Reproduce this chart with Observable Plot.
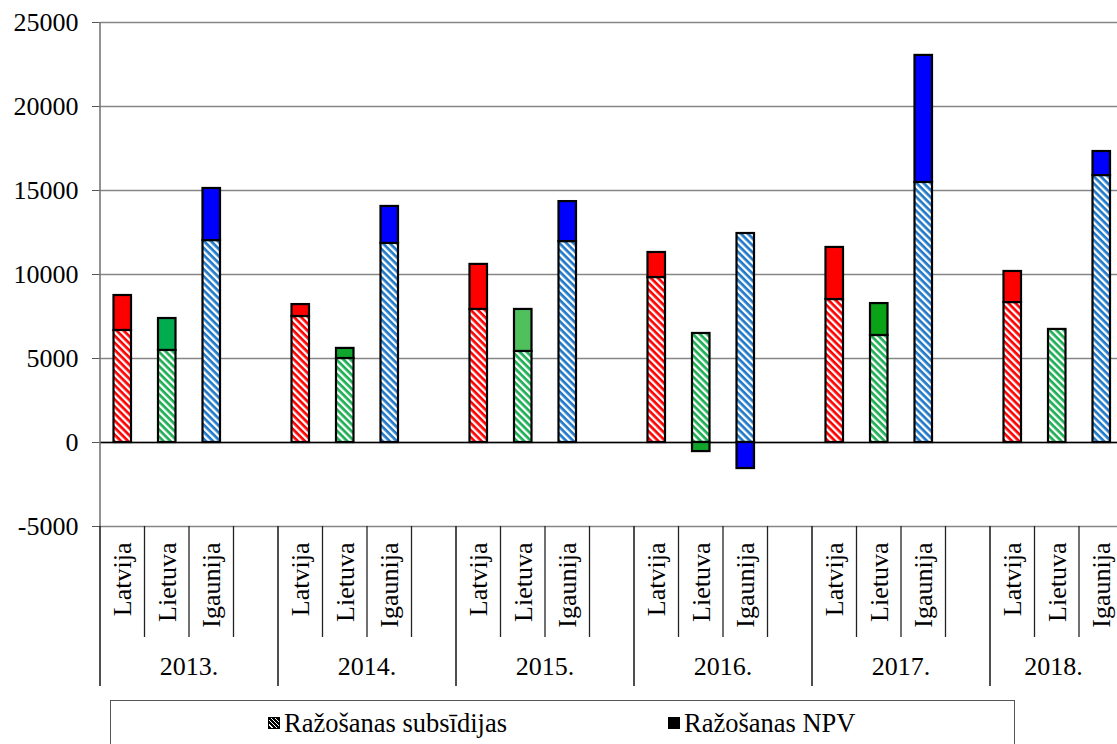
<!DOCTYPE html>
<html>
<head>
<meta charset="utf-8">
<script src="https://cdn.jsdelivr.net/npm/d3@7"></script>
<script src="https://cdn.jsdelivr.net/npm/@observablehq/plot@0.6"></script>
<style>
html, body { margin: 0; padding: 0; background: #fff; overflow: hidden; }
#wrap { width: 1117px; height: 744px; overflow: hidden; position: relative; font-family: "Liberation Serif", "Times New Roman", serif; }
#chart { width: 1117px; height: 700px; overflow: hidden; }
#chart svg text { font-family: "Liberation Serif", "Times New Roman", serif; }
#legend { position: absolute; left: 110px; top: 700px; width: 905px; height: 70px; border: 1.5px solid #555; box-sizing: border-box; background: #fff; }
.item { position: absolute; top: 7px; font-size: 26.5px; line-height: 30px; display: flex; align-items: center; color: #000; white-space: nowrap; font-family: "Liberation Serif", "Times New Roman", serif; }
.sw { width: 10px; height: 10px; border: 1.5px solid #000; margin-right: 4px; }
</style>
</head>
<body>
<div id="wrap">
<svg width="0" height="0" style="position:absolute">
  <defs>
    <pattern id="hatch-Latvija" patternUnits="userSpaceOnUse" width="5" height="5" patternTransform="rotate(45)">
      <rect width="5" height="5" fill="#ffffff"/><rect width="5" height="2.7" fill="#ff0000"/>
    </pattern>
    <pattern id="hatch-Lietuva" patternUnits="userSpaceOnUse" width="5" height="5" patternTransform="rotate(45)">
      <rect width="5" height="5" fill="#ffffff"/><rect width="5" height="2.7" fill="#1cae52"/>
    </pattern>
    <pattern id="hatch-Igaunija" patternUnits="userSpaceOnUse" width="5" height="5" patternTransform="rotate(45)">
      <rect width="5" height="5" fill="#ffffff"/><rect width="5" height="2.7" fill="#1f78c8"/>
    </pattern>
  </defs>
</svg>
<div id="chart"></div>
<div id="legend">
  <div class="item" style="left:157px"><div class="sw" style="background:#333; background-image: repeating-linear-gradient(45deg, #000 0 2px, #fff 2px 3px);"></div><span id="leg1"></span></div>
  <div class="item" style="left:557px"><div class="sw" style="background:#000"></div><span id="leg2"></span></div>
</div>
</div>
<script>
// ---- data ----
const years = ["2013.", "2014.", "2015.", "2016.", "2017.", "2018."];
const countries = ["Latvija", "Lietuva", "Igaunija"];
const seriesNames = ["Ražošanas subsīdijas", "Ražošanas NPV"];

const subsLatvija  = [6670, 7500, 7920, 9820, 8510, 8330];
const subsLietuva  = [5480, 5000, 5420, 6490, 6370, 6730];
const subsIgaunija = [12020, 11850, 11960, 12440, 15480, 15890];

const npvLatvija  = [2080, 710, 2680, 1490, 3100, 1850];
const npvLietuva  = [1900, 600, 2500, -540, 1900, 0];
const npvIgaunija = [3100, 2200, 2380, -1550, 7560, 1430];

const yTicks = [-5000, 0, 5000, 10000, 15000, 20000, 25000];

// ---- styles ----
const npvColorLatvija = ["#ff0000", "#ff0000", "#ff0000", "#ff0000", "#ff0000", "#ff0000"];
const npvColorLietuva = ["#00ac4e", "#10a52c", "#50c05c", "#12a52c", "#0aa318", "#0aa318"];
const npvColorIgaunija = ["#0000ff", "#0000ff", "#0000ff", "#0000ff", "#0000ff", "#0000ff"];
const FONT = "'Liberation Serif', 'Times New Roman', serif";

document.getElementById("leg1").textContent = seriesNames[0];
document.getElementById("leg2").textContent = seriesNames[1];

// ---- tables ----
const subs = {Latvija: subsLatvija, Lietuva: subsLietuva, Igaunija: subsIgaunija};
const npv = {Latvija: npvLatvija, Lietuva: npvLietuva, Igaunija: npvIgaunija};
const npvCol = {Latvija: npvColorLatvija, Lietuva: npvColorLietuva, Igaunija: npvColorIgaunija};

const slots = [];
years.forEach(yr => {
  countries.forEach(c => slots.push({key: yr + "|" + c, year: yr, country: c}));
  slots.push({key: yr + "|", year: yr, country: ""});
});
const slotKeys = slots.map(s => s.key);

const rows = [];
years.forEach((yr, i) => {
  countries.forEach(c => {
    rows.push({slot: yr + "|" + c, value: subs[c][i], fill: "url(#hatch-" + c + ")"});
    if (npv[c][i] !== 0) rows.push({slot: yr + "|" + c, value: npv[c][i], fill: npvCol[c][i]});
  });
});

function categoryAxis(index, scales, values, dimensions) {
  const x = scales.x, y = scales.y;
  const bw = x.bandwidth();
  const yb = y(-5000), yt = y(25000);
  const g = d3.create("svg:g");
  g.append("line").attr("x1", x(slotKeys[0])).attr("x2", x(slotKeys[0]))
    .attr("y1", yt).attr("y2", yb).attr("stroke", "#777").attr("stroke-width", 1.6);
  slots.forEach((s, i) => {
    const xs = x(s.key);
    const first = i % 4 === 0;
    g.append("line").attr("x1", xs).attr("x2", xs)
      .attr("y1", yb).attr("y2", yb + (first ? 160 : 111))
      .attr("stroke", "#222").attr("stroke-width", first ? 1.6 : 1.3);
  });
  years.forEach(yr => {
    const x0 = x(yr + "|Latvija");
    const x1 = Math.min(x(yr + "|") + bw, dimensions.width);
    g.append("text").attr("x", (x0 + x1) / 2).attr("y", yb + 149)
      .attr("text-anchor", "middle").attr("font-family", FONT).attr("font-size", 26)
      .attr("fill", "#000").text(yr);
  });
  return g.node();
}

const chart = Plot.plot({
  width: 1117,
  height: 700,
  marginLeft: 100,
  marginRight: 0,
  marginTop: 22,
  marginBottom: 174,
  style: {fontFamily: FONT, fontSize: "26px", color: "#000", background: "#fff", overflow: "hidden"},
  x: {type: "band", domain: slotKeys, range: [100, 1168], padding: 0, round: false, axis: null},
  y: {domain: [-5000, 25000], axis: null},
  color: {type: "identity"},
  marks: [
    Plot.gridY(yTicks, {stroke: "#868686", strokeOpacity: 1, strokeWidth: 1.5}),
    Plot.ruleY([0], {stroke: "#000", strokeWidth: 1.5}),
    Plot.axisY(yTicks, {tickFormat: d => String(d), tickSize: 8, tickPadding: 14, fontSize: 26, fontFamily: FONT, label: null, stroke: "#555"}),
    Plot.barY(rows, Plot.stackY({x: "slot", y: "value", fill: "fill", order: null, insetLeft: 13.5, insetRight: 13.5, stroke: "#000", strokeWidth: 2.2})),
    Plot.text(slots.filter(s => s.country), {x: "key", text: "country", frameAnchor: "bottom", dy: 16, rotate: -90, textAnchor: "end", lineAnchor: "middle", fontSize: 26, fontFamily: FONT, fill: "#000"}),
    categoryAxis
  ]
});
document.getElementById("chart").appendChild(chart);
</script>
</body>
</html>
